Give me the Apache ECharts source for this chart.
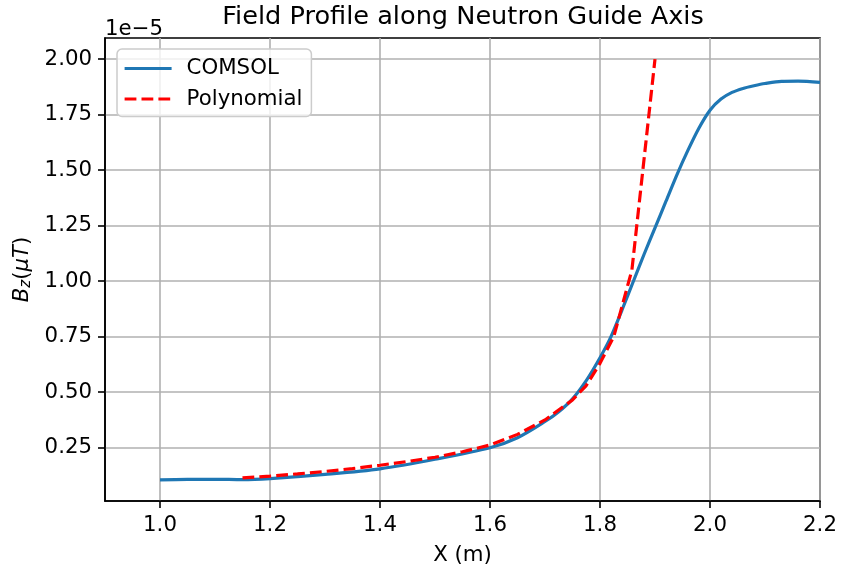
<!DOCTYPE html>
<html>
<head>
<meta charset="utf-8">
<script src="https://cdn.jsdelivr.net/npm/echarts@6/dist/echarts.min.js"></script>
<style>
  html, body { margin: 0; padding: 0; background: #fff; }
  #chart { width: 841px; height: 571px; }
</style>
</head>
<body>
<div id="chart"></div>
<script>
// Field values are in units of 1e-5 (shown by the axis offset label).
const comsolX = [1.0, 1.05, 1.1, 1.15, 1.2, 1.3, 1.4, 1.5, 1.6, 1.65, 1.7, 1.725, 1.75, 1.775, 1.8, 1.82, 1.84, 1.86, 1.88, 1.9, 1.92, 1.94, 1.96, 1.98, 2.0, 2.02, 2.04, 2.06, 2.08, 2.1, 2.13, 2.16, 2.2];
const comsolB = [0.105, 0.107, 0.108, 0.106, 0.111, 0.130, 0.155, 0.198, 0.250, 0.295, 0.368, 0.412, 0.470, 0.552, 0.655, 0.750, 0.870, 0.995, 1.120, 1.240, 1.360, 1.480, 1.590, 1.690, 1.770, 1.820, 1.850, 1.868, 1.880, 1.890, 1.900, 1.901, 1.895];

const polyX = [1.15, 1.2, 1.25, 1.3, 1.35, 1.4, 1.45, 1.5, 1.55, 1.6, 1.65, 1.7, 1.75, 1.775, 1.8, 1.825, 1.858, 1.9];
const polyB = [0.114, 0.122, 0.132, 0.143, 0.156, 0.171, 0.188, 0.207, 0.232, 0.262, 0.310, 0.375, 0.465, 0.530, 0.630, 0.750, 1.050, 2.000];

const xTicks = [1.0, 1.2, 1.4, 1.6, 1.8, 2.0, 2.2];
const yTicks = [0.25, 0.5, 0.75, 1.0, 1.25, 1.5, 1.75, 2.0];

const pairs = (xs, ys) => xs.map((x, i) => [x, ys[i]]);
const FONT = 'DejaVu Sans';
const FS = 21.3;

const chart = echarts.init(document.getElementById('chart'), null, { renderer: 'canvas' });
chart.setOption({
  animation: false,
  backgroundColor: '#ffffff',
  textStyle: { fontFamily: FONT, color: '#000' },
  title: {
    text: 'Field Profile along Neutron Guide Axis',
    left: 463, top: 4, textAlign: 'center', padding: 0,
    textStyle: { fontFamily: FONT, fontSize: 25.6, fontWeight: 'normal', color: '#000' }
  },
  graphic: [{
    type: 'text', left: 105, top: 19,
    style: { text: '1e\u22125', fontFamily: FONT, fontSize: FS, fill: '#000' }
  }],
  grid: {
    left: 105, right: 21, top: 38, bottom: 68,
    show: true, borderColor: '#000', borderWidth: 1.6, backgroundColor: 'transparent'
  },
  legend: {
    orient: 'vertical', left: 117, top: 49,
    padding: [9, 9, 7, 6], itemGap: 9.5,
    itemWidth: 47, itemHeight: 20,
    backgroundColor: 'rgba(255,255,255,0.8)', borderColor: '#cccccc', borderWidth: 1.5, borderRadius: 5,
    itemStyle: { opacity: 0 },
    lineStyle: { width: 3.2 },
    textStyle: { fontFamily: FONT, fontSize: FS, color: '#000', padding: [0, 0, 0, 10] },
    data: ['COMSOL', 'Polynomial']
  },
  xAxis: {
    type: 'value', min: 0.9, max: 2.2,
    name: 'X (m)', nameLocation: 'middle', nameGap: 44,
    nameTextStyle: { fontFamily: FONT, fontSize: FS, color: '#000' },
    axisLine: { show: true, lineStyle: { color: '#000', width: 1.6 } },
    axisTick: { show: true, inside: false, length: 7, lineStyle: { color: '#000', width: 1.6 }, customValues: xTicks },
    axisLabel: { fontFamily: FONT, fontSize: FS, color: '#000', margin: 14, customValues: xTicks,
                 formatter: v => v.toFixed(1) },
    splitLine: { show: true, lineStyle: { color: '#b0b0b0', width: 1.6 } }
  },
  yAxis: {
    type: 'value', min: 0.01, max: 2.095,
    name: '{i|B}{s|z}{n|(}{i|\u03bcT}{n|)}', nameLocation: 'middle', nameGap: 71, nameRotate: 90,
    nameTextStyle: {
      fontFamily: FONT, fontSize: FS, color: '#000',
      rich: {
        i: { fontFamily: FONT, fontSize: FS, fontStyle: 'italic', color: '#000' },
        s: { fontFamily: FONT, fontSize: 15, fontStyle: 'italic', color: '#000', verticalAlign: 'bottom', padding: [8, 0, 0, 0] },
        n: { fontFamily: FONT, fontSize: FS, color: '#000' }
      }
    },
    axisLine: { show: true, lineStyle: { color: '#000', width: 1.6 } },
    axisTick: { show: true, inside: false, length: 7, lineStyle: { color: '#000', width: 1.6 }, customValues: yTicks },
    axisLabel: { fontFamily: FONT, fontSize: FS, color: '#000', margin: 13, customValues: yTicks,
                 formatter: v => v.toFixed(2) },
    splitLine: { show: true, lineStyle: { color: '#b0b0b0', width: 1.6 } }
  },
  series: [
    {
      name: 'COMSOL', type: 'line', data: pairs(comsolX, comsolB),
      smooth: 0.3, symbol: 'none', showSymbol: false,
      lineStyle: { color: '#1f77b4', width: 3.2 }, itemStyle: { color: '#1f77b4' }, z: 3
    },
    {
      name: 'Polynomial', type: 'line', data: pairs(polyX, polyB),
      smooth: false, symbol: 'none', showSymbol: false,
      lineStyle: { color: '#ff0000', width: 3.2, type: [11.8, 5.1] }, itemStyle: { color: '#ff0000' }, z: 4
    }
  ]
});
</script>
</body>
</html>
